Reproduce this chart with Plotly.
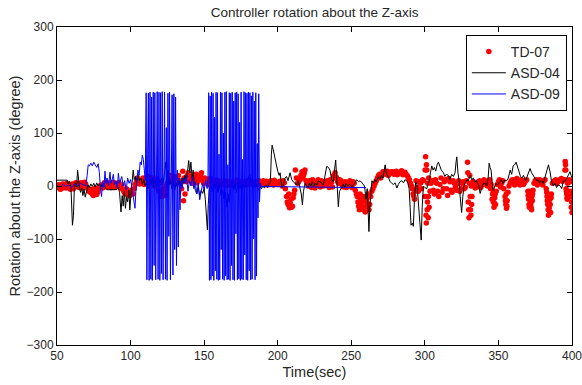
import plotly.graph_objects as go

# ---------------- data (time in sec, rotation in degree) ----------------
TD07 = [
    (50, -3), (51.5, 2), (53, -5), (54.5, 3), (56, -4), (57.5, 2), (59, -6), (60.5, 4), (62, -2), (63.5, 5),
    (65, -3), (66.5, 6), (68, 0), (69.5, 4), (71, -5), (72.5, -12), (74, -15), (75.5, -10), (77, -16), (78.5, -5),
    (80, 2), (81.5, -3), (83, 5), (84.5, 0), (86, 6), (87.5, -2), (89, 4), (90.5, 0), (92, 6), (93.5, -4),
    (95, -8), (96.5, -15), (98, -12), (99.5, -18), (101, -10), (102.5, -5), (104, 8), (105.5, 12), (107, 5), (108.5, 15),
    (110, 8), (111.5, 18), (113, 5), (114.5, 12), (116, 0), (117.5, 10), (119, -8), (120.5, -15), (122, -5), (123.5, -18),
    (125, 5), (126.5, 15), (128, 8), (129.5, 18), (131, 10), (132.5, 20), (134, 5), (135.5, 28), (136, -28), (136.5, 15),
    (137, -15), (138.5, 20), (140, 10), (141.5, 18), (143, 8), (144.5, 22), (146, 12), (147.5, 20), (149, 10), (150.5, 15),
    (152, 8), (153.5, 12), (155, 5), (156.5, 10), (158, 8), (159.5, 2), (161, 9), (162.5, 3), (164, 7), (165.5, 1),
    (167, 8), (168.5, 2), (170, 9), (171.5, 4), (173, 8), (174.5, 0), (176, 7), (177.5, 3), (179, 10), (180.5, 4),
    (182, 8), (183.5, 2), (185, 9), (186.5, 3), (188, 7), (189.5, 8), (191, 3), (192.5, 9), (194, 4), (195.5, 10),
    (197, 2), (198.5, 8), (200, 3), (201.5, 9), (203, 0), (204.5, 6), (206, -20), (207, -35), (208, -41), (209, -25),
    (210, -38), (211, -15), (212, 30), (213.5, 5), (215, 12), (216.5, 27), (217.5, 20), (218.5, 30), (220, 5), (221.5, 10),
    (223, -3), (224.5, 8), (226, 0), (227.5, 12), (229, -2), (230.5, 8), (232, 3), (233.5, 10), (235, -3), (236.5, 7),
    (238, 20), (239, 25), (240, 15), (241.5, 5), (243, 10), (244.5, -2), (246, 8), (247.5, 0), (249, 10), (250.5, -3),
    (252, 5), (253.5, -15), (254.5, -30), (255.5, -45), (256.5, -25), (257.5, -40), (258.5, -20), (259.5, -49), (260.5, -30), (261.5, -15),
    (262.5, -35), (264, -10), (265.5, 0), (267, 10), (268.5, 20), (270, 15), (271.5, 27), (273, 22), (274.5, 28), (276, 24),
    (277.5, 27), (279, 22), (280.5, 28), (282, 23), (283.5, 27), (285, 21), (286.5, 26), (288, 20), (289.5, 12), (291, 0),
    (292, -15), (293, -25), (294, 10), (295.5, -10), (297, 5), (298.5, 12), (300, -20), (300.5, 55), (301, -70), (301.3, 30),
    (301.6, -45), (302, 5), (302.3, -60), (302.6, 15), (303.5, -10), (305, 10), (306.5, -15), (308, 5), (309.5, -20), (311, 15),
    (312.5, -5), (314, 12), (315.5, -18), (317, 8), (318.5, -12), (320, 5), (321.5, -8), (323, 10), (324.5, -5), (326, 8),
    (327.5, -3), (329, 45), (329.5, -30), (330, -60), (330.5, 20), (331, -45), (331.5, 0), (332, -20), (333.5, 5), (335, -2),
    (336.5, 8), (338, -3), (339.5, 5), (341, 10), (342.5, 0), (344, 12), (345, 3), (346, -15), (346.5, -30), (347, -40),
    (347.5, -22), (348, -35), (348.5, -10), (350, 8), (351.5, -2), (353, 10), (354.5, -20), (355, -35), (355.5, -42), (356, -28),
    (356.5, -12), (358, 5), (359.5, 12), (361, 2), (362.5, 14), (364, 4), (365.5, 12), (367, 3), (368.5, 10), (370, -10),
    (370.5, -25), (371, -40), (371.5, -18), (372, -33), (372.5, -45), (373, -28), (373.5, -8), (375, 10), (376.5, 2), (378, 12),
    (379.5, 5), (381, 10), (382.5, -5), (383, -20), (383.5, -35), (384, -55), (384.5, -42), (385, -25), (385.5, -50), (386, -15),
    (387.5, 8), (389, 12), (390.5, 8), (392, 12), (393.5, 9), (395, 12), (395.4, 46), (395.8, 30), (396.2, -10), (396.6, -22),
    (397, 5), (398, 12), (399, -20), (399.5, -40), (400, -50), (400, 10),
]

TD07_MORE = [
    (50.7, 2), (52.2, -6), (53.7, 4), (55.2, -2), (56.7, 5), (58.2, -3), (59.7, 3), (61.2, -5), (62.7, 6), (64.2, -1),
    (65.7, 4), (67.2, -4), (68.7, 7), (70.2, -2), (71.7, -10), (73.2, -6), (74.7, -18), (76.2, -4), (77.7, -12), (79.2, 0),
    (80.7, -4), (82.2, 6), (83.7, -2), (85.2, 4), (86.7, -3), (88.2, 7), (89.7, -2), (91.2, 5), (92.7, -3), (94.2, 2),
    (95.7, -12), (97.2, -5), (98.7, -16), (100.2, -8), (101.7, -15), (103.2, 3), (104.7, 15), (106.2, 4), (107.7, 12), (109.2, 3),
    (110.7, 12), (112.2, 2), (113.7, 16), (115.2, 6), (116.7, 14), (118.2, -3), (119.7, 5), (121.2, -20), (122.7, -10), (124.2, 0),
    (125.7, 10), (127.2, 20), (128.7, 12), (130.2, 4), (131.7, 16), (133.2, 10), (134.7, -5), (137.7, 8), (139.2, 25), (140.7, 15),
    (142.2, 5), (143.7, 16), (145.2, 6), (146.7, 15), (148.2, 25), (149.7, 5), (151.2, 12), (152.7, 3), (154.2, 14), (155.7, 8),
    (157.2, 3), (158.7, 11), (160.2, 5), (161.7, 2), (163.2, 10), (164.7, 4), (166.2, 9), (167.7, 5), (169.2, 2), (170.7, 7),
    (172.2, 11), (173.7, 4), (175.2, 9), (176.7, 2), (178.2, 6), (179.7, 3), (181.2, 10), (182.7, 5), (184.2, 7), (185.7, 4),
    (187.2, 10), (188.7, 3), (190.2, 10), (191.7, 6), (193.2, 2), (194.7, 8), (196.2, 5), (197.7, 11), (199.2, 4), (200.7, 7),
    (202.2, 3), (203.7, 10), (205.2, -5), (206.5, -30), (207.5, -15), (208.5, -32), (209.5, -40), (210.5, -22), (211.5, -8), (212.7, 15),
    (214.2, 8), (215.7, 20), (217, 15), (218, 24), (219.2, 10), (220.7, 0), (222.2, 6), (223.7, 12), (225.2, -4), (226.7, 6),
    (228.2, 3), (229.7, 10), (231.2, 0), (232.7, 7), (234.2, 2), (235.7, 12), (237.2, -2), (238.5, 15), (239.5, 18), (240.7, 8),
    (242.2, 12), (243.7, 2), (245.2, 6), (246.7, -3), (248.2, 5), (249.7, 0), (251.2, 8), (252.7, -8), (254, -20), (255, -38),
    (256, -15), (257, -32), (258, -45), (259, -28), (260, -38), (261, -22), (262, -45), (263.2, -20), (264.7, -5), (266.2, 5),
    (267.7, 15), (269.2, 22), (270.7, 20), (272.2, 25), (273.7, 27), (275.2, 20), (276.7, 26), (278.2, 24), (279.7, 27), (281.2, 21),
    (282.7, 25), (284.2, 29), (285.7, 23), (287.2, 22), (288.7, 16), (290.2, 5), (291.5, -5), (292.5, -20), (293.5, -10), (294.7, -3),
    (296.2, 8), (297.7, -5), (299.2, 10), (300.2, 30), (300.8, -55), (301.1, 40), (301.8, -30), (302.4, -20), (302.9, -40), (304.2, 5),
    (305.7, -8), (307.2, 12), (308.7, -10), (310.2, 3), (311.7, -12), (313.2, 8), (314.7, -5), (316.2, 14), (317.7, -8), (319.2, 10),
    (320.7, -3), (322.2, 4), (323.7, -10), (325.2, 5), (326.7, -5), (328.2, 10), (329.2, 25), (329.8, -45), (330.3, 5), (330.8, -20),
    (331.3, -55), (331.8, -35), (332.7, 8), (334.2, -4), (335.7, 5), (337.2, 10), (338.7, 2), (340.2, 12), (341.7, 3), (343.2, 8),
    (344.7, -5), (345.7, -25), (346.8, -10), (347.3, -32), (347.8, -15), (349.2, 3), (350.7, 12), (352.2, 5), (353.7, -5), (354.8, -28),
    (355.3, -15), (355.8, -38), (357.2, 0), (358.7, 10), (360.2, 6), (361.7, 12), (363.2, 8), (364.7, 2), (366.2, 10), (367.7, 6),
    (369.2, 12), (370.2, -18), (370.8, -35), (371.3, -10), (371.8, -28), (372.2, -40), (372.8, -20), (373.2, -15), (374.2, 5), (375.7, 12),
    (377.2, 6), (378.7, 10), (380.2, 2), (381.7, 12), (382.8, -12), (383.2, -28), (383.8, -45), (384.2, -30), (384.8, -50), (385.2, -35),
    (385.8, -22), (386.7, 5), (388.2, 10), (389.7, 5), (391.2, 10), (392.7, 14), (394.2, 12), (395.2, 30), (395.6, 40), (396, -5),
    (396.4, -15), (396.8, -25), (397.5, 10), (398.5, 8), (399.2, -10), (399.7, -30), (400, -20),
]

ASD04 = [
    (50, 11), (57, 11), (57.5, 4), (58.5, 9), (59.5, -3), (60.5, -74), (61.2, -55), (61.8, -3), (62.5, 6), (63.3, -2),
    (64, 30), (64.6, 10), (65.3, -4), (66, -12), (66.8, -4), (67.6, -18), (68.4, -6), (69.2, -21), (70, -8), (71, 2),
    (72, -3), (73, 4), (74, -1), (75, 5), (76, -2), (77, 6), (78, 0), (79, 4), (80, -2), (81, 5),
    (82, 1), (83, -4), (84, -7), (90.5, -7), (91.5, -2), (92.5, -12), (93.5, -49), (94.3, -18), (95, -38), (95.8, -10),
    (96.5, -42), (97.3, -20), (98, -30), (98.8, -8), (99.5, -45), (100.3, -15), (101, 8), (101.8, 30), (102.5, 12), (103.3, 18),
    (104, 5), (105, 22), (106, 10), (107, 15), (108, 3), (109, 12), (110, 0), (111, 8), (112, -5), (113, 12),
    (114, 2), (115, 15), (116, -3), (117, 10), (118, 0), (119, 18), (120, 6), (121, 14), (122, 2), (123, 25),
    (124, 45), (124.7, 15), (125.5, 30), (126.3, 2), (127, 12), (128, -5), (129, 8), (130, -8), (131, 5), (132, -3),
    (133, 10), (134, 2), (135, 15), (136, 5), (137, 20), (138, 10), (138.8, 35), (139.5, 48), (140.2, 25), (141, 45),
    (141.8, 15), (142.5, 30), (143.3, 5), (144, -8), (145, -15), (146, -3), (147, -18), (148, -8), (149, -14), (150, -5),
    (150.8, -25), (151.5, -60), (152.2, -83), (152.8, -35), (153.5, -8), (154.5, 2), (155.5, -10), (156.5, 5), (157.5, -5), (158.5, 8),
    (159.5, -12), (160.5, 3), (161.5, -18), (162.5, -8), (163.5, -25), (164.5, -12), (165.5, -40), (166.3, -15), (167, -30), (168, -5),
    (169, 5), (170, -8), (171, 3), (172, -12), (173, 6), (174, -4), (175, 2), (176, -6), (177, 4), (178, -2),
    (179, 10), (180, 15), (181, 22), (182, 8), (183, 12), (184, 0), (185, 5), (186, -3), (187, -8), (188, -2),
    (189, -5), (190, 0), (191, -4), (192, 2), (193, -3), (194, 3), (195, 8), (195.7, 60), (196.2, 77), (197, 68),
    (198, 55), (199, 36), (200, 28), (201, 20), (201.6, 25), (202.3, 10), (203, -3), (204, 5), (205, 15), (206, 18),
    (207, 10), (208.4, 25), (209.5, 12), (210.5, 8), (211.8, 5), (213, 2), (214, 10), (215, 0), (216, -15), (216.8, -36),
    (217.5, -10), (218.6, 5), (219.5, 2), (220.5, -3), (221.5, 5), (222.5, 0), (223.5, 8), (224.5, -2), (225.5, 5), (226.5, 2),
    (227.7, 10), (228.8, 8), (230, 5), (231, 2), (232, 15), (233.3, 37), (234.5, 35), (235.5, 30), (236.7, 12), (237.8, 8),
    (238.6, 30), (239.4, 49), (240.2, 10), (241.2, -39), (242, -10), (243.5, 0), (244.5, 3), (245.5, -2), (246.5, 5), (247.5, 0),
    (249, 3), (250.5, -2), (252, 6), (253.7, 12), (255, 8), (256, 10), (257, 7), (258, 4), (259, 0), (260, -25),
    (260.8, -5), (261.5, -50), (262, -86), (262.6, -40), (263.3, -5), (264, 10), (265, 5), (266, 12), (267, 8), (268.4, 18),
    (269.5, 12), (270.5, 20), (271.5, 15), (272.3, 30), (273, 40), (273.8, 25), (275.2, 15), (276.5, 8), (277.5, 5), (278.6, 3),
    (279.8, 6), (281, -4), (282, 3), (283, 8), (284.3, 10), (285.5, 6), (286.5, 12), (287.7, 10), (288.5, 5), (289.3, -5),
    (290, -40), (290.6, -74), (291.4, -70), (292.2, -76), (293, -20), (293.8, 8), (294.7, 2), (295.6, -30), (296.5, -60), (297.5, -102),
    (298.2, -40), (299, 0), (300, -3), (301.3, -5), (302.2, 5), (303, 10), (303.8, 25), (304.7, 38), (305.6, 30), (306.5, 35),
    (307.4, 28), (308.3, 40), (309.2, 45), (310.2, 35), (311.2, 30), (312.6, 25), (313.6, 18), (314.6, 22), (316, 20), (317, 12),
    (318.2, 22), (319.4, 18), (320.5, 25), (321.2, 45), (321.7, 55), (322.5, 25), (323.3, 10), (324, -20), (325, -50), (325.8, -20),
    (326.6, 0), (327.4, 5), (328.5, 12), (329.5, 10), (330.8, 20), (331.8, 12), (333, 15), (334, 8), (335, 10), (336.4, 2),
    (337.6, -14), (338.7, -3), (339.8, 5), (341, 5), (342, 0), (343, 15), (343.7, 43), (344.3, 35), (345, 30), (345.8, 5),
    (346.6, -8), (347.5, 0), (348.5, 5), (349.5, 2), (351, 8), (352, 12), (353, 5), (354, 10), (355.7, 10), (356.7, 15),
    (358, 30), (359, 22), (360, 38), (361, 40), (362, 45), (363, 35), (364, 25), (365, 18), (366, 15), (367, 20),
    (368.5, 10), (370, 22), (371.5, 33), (372.5, 25), (373.5, 20), (374.5, 15), (376, 10), (377, 12), (378, 6), (379.5, 10),
    (380.5, 5), (381.5, 15), (382.5, 25), (384, 40), (385, 28), (386, 10), (387.4, 0), (388.5, 5), (389.5, -3), (390.5, 2),
    (392, 0), (393, -5), (394, 8), (395.4, 10), (396.5, 15), (397.5, 20), (398.7, 27), (399.4, 20), (400, 15),
]

ASD09 = [
    (50, 0), (52, -2), (54, 3), (56, -1), (58, 2), (60, -3), (62, 4), (64, 0), (66, 5), (68, 2),
    (69.5, 0), (70.5, 20), (71.2, 40), (72, 38), (73, 43), (74, 38), (75, 45), (76, 40), (77, 35), (78, 42),
    (78.8, 25), (79.5, -5), (80.3, -20), (81, 8), (82, -2), (82.6, 28), (83.3, 5), (84, 15), (85, 0), (86, 26),
    (86.7, 5), (87.5, 12), (88.3, 22), (89, 2), (90, 10), (91, -3), (91.7, 24), (92.5, 5), (93.3, 12), (94, 18),
    (95, 0), (96, 10), (97, -8), (98, 15), (99, 5), (100, 12), (101, -5), (102, -20), (103, -42), (103.6, -10),
    (104.2, 15), (105, 30), (105.8, 20), (106.5, 45), (107.3, 40), (108, 58), (108.7, 50), (109.4, 30), (110, 10),
    (110.6, 176), (111.1, -177), (111.6, 60), (112.1, 175), (112.6, -178), (113.2, 177), (113.8, -176), (114.3, 168), (114.8, -178), (115.4, 177),
    (116, -150), (116.5, 176), (117.1, -177), (117.6, 30), (118.1, 178), (118.7, -176), (119.3, 177), (119.9, -178), (120.4, 176), (121, -165),
    (121.5, 178), (122.1, -177), (122.6, 50), (123.1, 177), (123.7, -176), (124.3, 110), (124.8, -178), (125.4, 175), (126, -95), (126.5, 177),
    (127.1, -177), (127.6, 60), (128.2, 172), (128.8, -168), (129.4, 174), (130, -120), (130.6, 168), (131.2, -150), (131.8, 30), (132.4, -115),
    (133, 15), (133.6, -45), (134.2, 10), (135, -5), (136, 15), (137, 5), (138, 20), (139, -10), (140, 10), (141, 0),
    (142, 18), (143, -5), (144, 8), (145, -15), (146, 5), (147, -26), (148, -10), (149, 5), (150, -8), (151, 10),
    (152, -5), (152.6, 20),
    (153.1, 176), (153.6, -178), (154.1, 170), (154.6, -177), (155.1, 177), (155.6, -170), (156.1, 175), (156.6, -178), (157.1, 130), (157.6, -160),
    (158.1, 177), (158.6, -176), (159.1, 176), (159.6, -178), (160.1, 60), (160.6, -177), (161.1, 177), (161.6, -120), (162.1, 176), (162.6, -176),
    (163.1, 100), (163.6, -178), (164.1, 177), (164.6, -170), (165.1, 178), (165.6, -177), (166.1, 40), (166.6, -176), (167.1, 176), (167.6, -178),
    (168.1, 175), (168.6, -150), (169.1, 177), (169.6, -177), (170.1, 160), (170.6, -178), (171.1, 176), (171.6, -90), (172.1, 177), (172.6, -177),
    (173.1, 174), (173.6, -175), (174.1, 120), (174.6, -178), (175.1, 177), (175.6, -176), (176.1, 50), (176.6, -177), (177.1, 178), (177.6, -130),
    (178.1, 176), (178.6, -177), (179.1, 175), (179.6, -178), (180.1, 177), (180.6, -160), (181.1, 176), (181.6, -177), (182.1, 170), (182.6, -176),
    (183.1, 177), (183.6, -100), (184.1, 160), (184.6, -177), (185.1, 176), (185.6, -170), (186.1, 80), (186.6, -60), (187.1, 174), (187.6, -30),
    (188.2, 5), (189, -2), (190, -1), (260, -3),
]

td_t, td_v = zip(*(TD07 + TD07_MORE))
a4_t, a4_v = zip(*ASD04)
a9_t, a9_v = zip(*ASD09)

x_ticks = [50, 100, 150, 200, 250, 300, 350, 400]
y_ticks = [-300, -200, -100, 0, 100, 200, 300]

FONT = "Liberation Sans, Arial, sans-serif"

fig = go.Figure()
fig.add_trace(go.Scatter(x=td_t, y=td_v, mode="markers", name="TD-07",
                         marker=dict(color="#ff0000", size=5.5, symbol="circle", line=dict(width=0))))
fig.add_trace(go.Scatter(x=a4_t, y=a4_v, mode="lines", name="ASD-04",
                         line=dict(color="#000000", width=1)))
fig.add_trace(go.Scatter(x=a9_t, y=a9_v, mode="lines", name="ASD-09",
                         line=dict(color="#0000ff", width=1)))

axis_common = dict(showline=True, linecolor="#000000", linewidth=1, mirror="ticks",
                   ticks="inside", ticklen=5, tickcolor="#000000", showgrid=False, zeroline=False,
                   automargin=False, ticklabeloverflow="allow",
                   tickfont=dict(family=FONT, size=12, color="#262626"))

fig.update_layout(
    width=582, height=385,
    margin=dict(l=57, r=10, t=27, b=40),
    paper_bgcolor="white", plot_bgcolor="white",
    font=dict(family=FONT, color="#262626"),
    title=dict(text="Controller rotation about the Z-axis", x=0.5405, xanchor="center",
               y=0.968, yanchor="middle", yref="container", font=dict(family=FONT, size=13.5, color="#262626")),
    xaxis=dict(range=[50, 400], tickvals=x_ticks,
               title=dict(text="Time(sec)", font=dict(family=FONT, size=14.5), standoff=4), **axis_common),
    yaxis=dict(range=[-300, 300], tickvals=y_ticks,
               title=dict(text="Rotation about the Z-axis (degree)", font=dict(family=FONT, size=14.5), standoff=2),
               **axis_common),
    legend=dict(x=0.99, y=0.975, xanchor="right", yanchor="top", bgcolor="white",
                bordercolor="#000000", borderwidth=1, font=dict(family=FONT, size=14, color="#262626"),
                tracegroupgap=0, itemwidth=34),
    showlegend=True,
)

fig.write_html("out.html", config={"displayModeBar": False},
               post_script="document.body.style.margin='0';document.body.style.overflow='hidden';")
